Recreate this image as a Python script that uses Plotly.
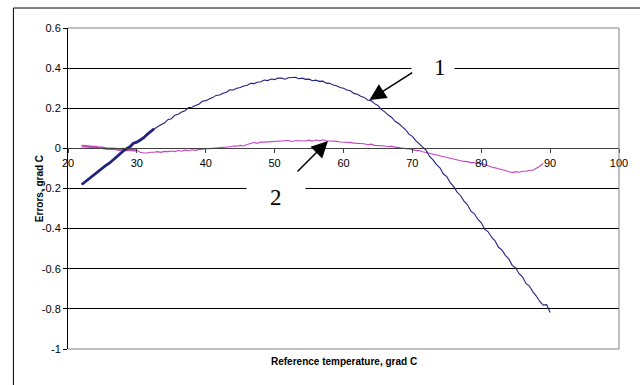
import plotly.graph_objects as go

# Reference temperature, grad C (curve 1)
temp_1 = [22.0 + 0.5 * i for i in range(137)]
err_1 = [
    -0.180, -0.166, -0.154, -0.139, -0.127, -0.112, -0.100, -0.085, -0.074, -0.058,
    -0.047, -0.029, -0.014, -0.001, 0.008, 0.026, 0.031, 0.042, 0.053, 0.070,
    0.083, 0.098, 0.108, 0.118, 0.126, 0.143, 0.148, 0.165, 0.170, 0.181,
    0.188, 0.203, 0.205, 0.214, 0.220, 0.235, 0.238, 0.246, 0.253, 0.264,
    0.266, 0.275, 0.280, 0.292, 0.291, 0.300, 0.303, 0.311, 0.313, 0.324,
    0.323, 0.330, 0.332, 0.341, 0.338, 0.346, 0.343, 0.351, 0.350, 0.345,
    0.352, 0.353, 0.354, 0.347, 0.350, 0.344, 0.345, 0.337, 0.340, 0.334,
    0.335, 0.325, 0.324, 0.316, 0.312, 0.303, 0.300, 0.291, 0.287, 0.274,
    0.270, 0.260, 0.254, 0.241, 0.238, 0.223, 0.214, 0.193, 0.182, 0.166,
    0.154, 0.135, 0.124, 0.108, 0.094, 0.071, 0.060, 0.039, 0.024, 0.004,
    -0.010, -0.040, -0.057, -0.081, -0.097, -0.128, -0.141, -0.171, -0.191, -0.218,
    -0.236, -0.263, -0.281, -0.313, -0.326, -0.353, -0.371, -0.403, -0.416, -0.443,
    -0.461, -0.493, -0.506, -0.533, -0.551, -0.583, -0.596, -0.625, -0.641, -0.673,
    -0.686, -0.715, -0.736, -0.763, -0.781, -0.779, -0.818,
]

# Reference temperature, grad C (curve 2)
temp_2 = [22.0 + 0.5 * i for i in range(135)]
err_2 = [
    0.012, 0.009, 0.009, 0.007, 0.007, 0.003, 0.003, -0.001, -0.001, -0.004,
    -0.003, -0.007, -0.004, -0.008, -0.005, -0.009, -0.009, -0.019, -0.023, -0.023,
    -0.019, -0.019, -0.016, -0.020, -0.015, -0.016, -0.013, -0.016, -0.011, -0.014,
    -0.009, -0.012, -0.007, -0.010, -0.005, -0.005, -0.001, -0.001, 0.000, 0.001,
    0.004, 0.004, 0.007, 0.008, 0.012, 0.011, 0.015, 0.012, 0.019, 0.023,
    0.029, 0.026, 0.031, 0.031, 0.032, 0.033, 0.034, 0.034, 0.035, 0.035,
    0.039, 0.034, 0.038, 0.038, 0.037, 0.037, 0.041, 0.036, 0.042, 0.038,
    0.043, 0.037, 0.037, 0.037, 0.035, 0.032, 0.032, 0.031, 0.030, 0.026,
    0.026, 0.025, 0.023, 0.018, 0.021, 0.015, 0.015, 0.014, 0.012, 0.008,
    0.011, 0.005, 0.005, 0.001, -0.001, -0.004, -0.005, -0.011, -0.011, -0.017,
    -0.021, -0.027, -0.029, -0.035, -0.037, -0.043, -0.045, -0.051, -0.054, -0.059,
    -0.061, -0.065, -0.066, -0.071, -0.071, -0.075, -0.074, -0.081, -0.085, -0.093,
    -0.097, -0.101, -0.105, -0.111, -0.115, -0.121, -0.116, -0.119, -0.114, -0.114,
    -0.109, -0.109, -0.099, -0.089, -0.074,
]

x_ticks = [20, 30, 40, 50, 60, 70, 80, 90, 100]
x_tick_labels = ["20", "30", "40", "50", "60", "70", "80", "90", "100"]
y_ticks = [0.6, 0.4, 0.2, 0, -0.2, -0.4, -0.6, -0.8, -1]
y_tick_labels = ["0.6", "0.4", "0.2", "0", "-0.2", "-0.4", "-0.6", "-0.8", "-1"]

NAVY = "#22227F"
MAGENTA = "#C844BC"
SANS = "Liberation Sans, Arial, sans-serif"
SERIF = "Liberation Serif, Times New Roman, serif"

fig = go.Figure()

# dense start of each record looks heavier
fig.add_trace(go.Scatter(x=temp_2[:17], y=err_2[:17], mode="lines",
                         line=dict(color=MAGENTA, width=2.6), showlegend=False))
fig.add_trace(go.Scatter(x=temp_2, y=err_2, mode="lines",
                         line=dict(color=MAGENTA, width=1.1), showlegend=False))
fig.add_trace(go.Scatter(x=temp_1[:22], y=err_1[:22], mode="lines",
                         line=dict(color=NAVY, width=2.8), showlegend=False))
fig.add_trace(go.Scatter(x=temp_1, y=err_1, mode="lines",
                         line=dict(color=NAVY, width=1.1), showlegend=False))

# callout positions (data units)
arrow1_tip, arrow1_tail = (63.76, 0.241), (70.2, 0.382)
arrow2_tip, arrow2_tail = (57.75, 0.037), (53.1, -0.123)

annotations = [
    # white boxes that break the grid lines behind the callout numbers
    dict(x=73.0, y=0.4, text=" ", showarrow=False, width=40, height=18,
         bgcolor="white"),
    dict(x=50.26, y=-0.2, text=" ", showarrow=False, width=56, height=18,
         bgcolor="white"),
    dict(x=74.0, y=0.4, text="1", showarrow=False,
         font=dict(family=SERIF, size=23, color="black"), yshift=1),
    dict(x=50.26, y=-0.252, text="2", showarrow=False,
         font=dict(family=SERIF, size=23, color="black"), yshift=1),
    dict(x=arrow1_tip[0], y=arrow1_tip[1], ax=arrow1_tail[0], ay=arrow1_tail[1],
         axref="x", ayref="y", text="", showarrow=True, arrowhead=2,
         arrowsize=2.2, arrowwidth=1.5, arrowcolor="black"),
    dict(x=arrow2_tip[0], y=arrow2_tip[1], ax=arrow2_tail[0], ay=arrow2_tail[1],
         axref="x", ayref="y", text="", showarrow=True, arrowhead=2,
         arrowsize=2.2, arrowwidth=1.5, arrowcolor="black"),
    # axis titles
    dict(xref="paper", yref="paper", x=-0.065, y=0.5, text="<b>Errors, grad C</b>",
         textangle=-90, showarrow=False, font=dict(family=SANS, size=10, color="black")),
    dict(xref="paper", yref="paper", x=0.5, y=-0.062,
         text="<b>Reference temperature, grad C</b>", showarrow=False,
         font=dict(family=SANS, size=10, color="black")),
]

shapes = [
    # chart area frame (left and top edges; the rest lies beyond the page)
    dict(type="line", xref="paper", yref="paper", x0=-0.0991, x1=-0.0991, y0=-0.5, y1=1.0623,
         line=dict(color="black", width=1)),
    dict(type="line", xref="paper", yref="paper", x0=-0.0991, x1=1.5, y0=1.0623, y1=1.0623,
         line=dict(color="black", width=1)),
    # plot area frame (top, right, bottom)
    dict(type="line", xref="paper", yref="paper", x0=0, x1=1, y0=1, y1=1,
         line=dict(color="#808080", width=1)),
    dict(type="line", xref="paper", yref="paper", x0=1, x1=1, y0=0, y1=1,
         line=dict(color="#808080", width=1)),
    dict(type="line", xref="paper", yref="paper", x0=0, x1=1, y0=0, y1=0,
         line=dict(color="#808080", width=1)),
]

fig.update_layout(
    width=640, height=385,
    margin=dict(l=68, r=17, t=28, b=36),
    paper_bgcolor="white", plot_bgcolor="white",
    showlegend=False,
    annotations=annotations,
    shapes=shapes,
    xaxis=dict(range=[20, 100], tickvals=x_ticks, ticktext=x_tick_labels,
               anchor="free", position=0.625, showline=True, linecolor="#404040",
               linewidth=1, ticks="outside", ticklen=4, tickcolor="#404040",
               showgrid=False, zeroline=False,
               tickfont=dict(family=SANS, size=11, color="black")),
    yaxis=dict(range=[-1, 0.6], tickvals=y_ticks, ticktext=y_tick_labels,
               showline=True, linecolor="black", linewidth=1, ticks="outside",
               ticklen=4, tickcolor="black", showgrid=True, gridcolor="black",
               gridwidth=1, zeroline=False,
               tickfont=dict(family=SANS, size=11, color="black")),
)

fig.write_html("out.html")
